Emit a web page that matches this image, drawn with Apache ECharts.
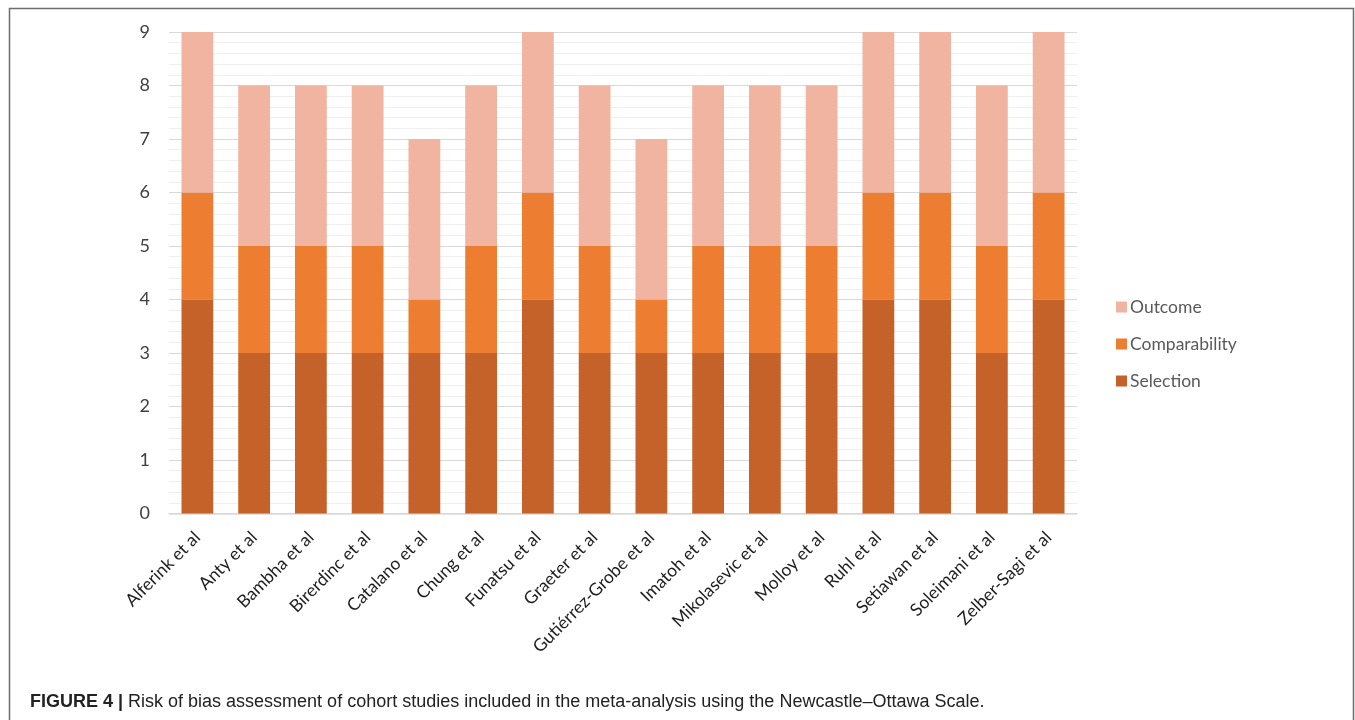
<!DOCTYPE html>
<html>
<head>
<meta charset="utf-8">
<script src="https://cdn.jsdelivr.net/npm/echarts@6/dist/echarts.min.js"></script>
<style>
  html, body { margin: 0; padding: 0; background: #fff; }
  #chart { width: 1355px; height: 720px; }
</style>
</head>
<body>
<div id="chart"></div>
<script>
// Cohort studies and their Newcastle–Ottawa star counts per domain
const studies = [
  'Alferink et al', 'Anty et al', 'Bambha et al', 'Birerdinc et al',
  'Catalano et al', 'Chung et al', 'Funatsu et al', 'Graeter et al',
  'Gutiérrez-Grobe et al', 'Imatoh et al', 'Mikolasevic et al', 'Molloy et al',
  'Ruhl et al', 'Setiawan et al', 'Soleimani et al', 'Zelber-Sagi et al'
];
const selection     = [4, 3, 3, 3, 3, 3, 4, 3, 3, 3, 3, 3, 4, 4, 3, 4];
const comparability = [2, 2, 2, 2, 1, 2, 2, 2, 1, 2, 2, 2, 2, 2, 2, 2];
const outcome       = [3, 3, 3, 3, 3, 3, 3, 3, 3, 3, 3, 3, 3, 3, 3, 3];
const yTicks = [0, 9, 1]; // min, max, interval

const captionBold = 'FIGURE 4 |';
const captionText = ' Risk of bias assessment of cohort studies included in the meta-analysis using the Newcastle–Ottawa Scale.';

const chart = echarts.init(document.getElementById('chart'), null, { renderer: 'canvas' });

const labelFont = 'Lato, "Open Sans", sans-serif';
const captionFont = '"Liberation Sans Narrow", "Liberation Sans", Arial, sans-serif';

function barSeries(name, data, color) {
  return {
    name: name,
    type: 'bar',
    stack: 'nos',
    data: data,
    barWidth: '56%',
    itemStyle: { color: color },
    emphasis: { disabled: true }
  };
}

chart.setOption({
  animation: false,
  backgroundColor: '#ffffff',
  title: {
    left: 25,
    top: 688,
    text: '{b|' + captionBold + '}{r|' + captionText + '}',
    textStyle: {
      rich: {
        b: { fontFamily: captionFont, fontWeight: 'bold', fontSize: 18, color: '#222' },
        r: { fontFamily: captionFont, fontWeight: 'normal', fontSize: 18, color: '#222' }
      }
    }
  },
  graphic: [{
    type: 'rect',
    shape: { x: 9.5, y: 8.5, width: 1344, height: 730 },
    style: { fill: 'none', stroke: '#6e6e6e', lineWidth: 1.5 },
    silent: true,
    z: -1
  }],
  legend: {
    orient: 'vertical',
    left: 1111,
    top: 293,
    itemWidth: 11,
    itemHeight: 11,
    itemGap: 19,
    icon: 'rect',
    data: ['Outcome', 'Comparability', 'Selection'],
    textStyle: { fontFamily: labelFont, fontSize: 17.5, color: '#595959', padding: [0, 0, 0, -2] }
  },
  grid: {
    left: 169,
    top: 32,
    width: 908,
    height: 481.5,
    containLabel: false
  },
  xAxis: {
    type: 'category',
    data: studies,
    axisLine: { show: true, lineStyle: { color: '#d9d9d9', width: 1.5 } },
    axisTick: { show: false },
    axisLabel: {
      interval: 0,
      rotate: 45,
      margin: 21,
      fontFamily: labelFont,
      fontSize: 17.5,
      color: '#1e1e1e'
    }
  },
  yAxis: {
    type: 'value',
    min: yTicks[0],
    max: yTicks[1],
    interval: yTicks[2],
    axisLine: { show: false },
    axisTick: { show: false },
    axisLabel: {
      margin: 19,
      fontFamily: labelFont,
      fontSize: 18,
      color: '#404040'
    },
    splitLine: { show: true, lineStyle: { color: '#d9d9d9', width: 1 } },
    minorTick: { show: false, splitNumber: 5 },
    minorSplitLine: { show: true, lineStyle: { color: '#efefef', width: 1 } }
  },
  series: [
    barSeries('Selection', selection, '#c4622a'),
    barSeries('Comparability', comparability, '#ed7d31'),
    barSeries('Outcome', outcome, '#f1b4a0')
  ]
});
</script>
</body>
</html>
